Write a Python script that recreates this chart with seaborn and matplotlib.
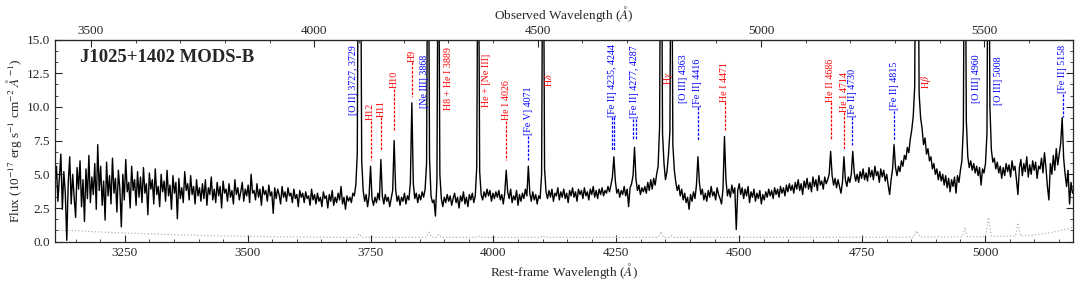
import numpy as np
import pandas as pd
import matplotlib
matplotlib.use("Agg")
import matplotlib.pyplot as plt
from matplotlib.ticker import MultipleLocator, AutoMinorLocator
import seaborn as sns

# ---------------- data ----------------
redshift = 0.1003
wave_start = 3108.0   # first rest-frame sample (A)
wave_step = 3.0       # sampling (A)

flux_3108_3405 = [4.2, 5.6, 3.0, 4.8, 6.5, 2.4, 5.2, 3.6, 0.1, 4.4,
                  6.3, 2.8, 5.0, 3.3, 1.8, 5.5, 3.9, 6.0, 2.6, 4.6,
                  1.5, 5.4, 3.2, 6.4, 2.9, 4.8, 3.5, 5.8, 2.4, 7.2,
                  3.8, 5.6, 2.7, 4.5, 1.6, 5.9, 3.4, 4.9, 2.8, 6.2,
                  3.6, 4.7, 2.2, 5.3, 3.9, 1.1, 5.0, 3.1, 6.1, 3.7,
                  4.4, 2.5, 5.6, 3.8, 4.6, 2.7, 5.2, 3.3, 4.8, 2.9,
                  5.5, 3.6, 4.3, 2.0, 5.1, 3.9, 4.6, 2.8, 5.4, 3.5,
                  4.1, 2.6, 5.0, 3.7, 4.5, 3.0, 5.3, 3.4, 4.2, 2.4,
                  4.9, 3.6, 4.4, 1.7, 4.7, 3.2, 4.0, 2.9, 5.2, 3.8,
                  4.3, 3.1, 4.9, 3.5, 4.1, 2.8, 4.6, 3.4, 4.0, 3.0]
flux_3408_3705 = [4.3, 3.2, 4.6, 2.7, 4.0, 3.5, 4.8, 3.1, 3.9, 2.9,
                  4.4, 3.4, 4.1, 2.5, 4.5, 3.6, 3.9, 3.0, 4.3, 3.3,
                  3.8, 2.8, 4.6, 3.5, 4.0, 3.1, 3.7, 4.4, 3.0, 3.9,
                  3.4, 4.2, 2.9, 5.0, 3.6, 3.8, 3.1, 4.3, 3.3, 3.9,
                  2.7, 4.1, 3.5, 3.8, 3.0, 4.2, 3.4, 3.7, 2.1, 4.0,
                  3.2, 3.9, 3.5, 2.8, 4.1, 3.3, 3.7, 3.0, 4.0, 3.4,
                  3.6, 2.9, 3.9, 3.2, 3.5, 2.6, 3.8, 3.3, 3.6, 2.9,
                  3.7, 3.2, 3.4, 2.7, 3.9, 3.1, 3.5, 2.8, 3.6, 3.0,
                  3.3, 2.6, 3.7, 3.2, 3.4, 2.5, 3.5, 3.0, 3.8, 2.7,
                  3.3, 2.9, 3.6, 3.1, 4.1, 2.8, 3.3, 2.4, 3.4, 3.0]
flux_3708_4005 = [3.3, 2.9, 3.6, 3.4, 4.2, 6.5, 32.0, 30.0, 6.0, 3.8,
                  3.0, 3.5, 2.6, 3.4, 5.6, 3.2, 2.7, 3.3, 2.9, 3.6,
                  3.1, 6.1, 3.4, 2.8, 3.5, 3.0, 3.3, 2.6, 3.2, 3.8,
                  7.5, 3.9, 3.0, 3.4, 2.7, 3.3, 3.0, 3.6, 2.8, 3.4,
                  3.1, 4.4, 10.3, 4.3, 3.2, 3.6, 2.9, 3.5, 3.1, 3.7,
                  3.3, 3.9, 5.8, 30.0, 6.2, 3.4, 2.9, 3.1, 1.9, 4.5,
                  28.0, 5.0, 3.2, 2.6, 3.3, 2.9, 3.5, 3.0, 3.4, 2.7,
                  3.2, 3.6, 2.9, 3.3, 2.5, 3.4, 3.0, 3.7, 2.8, 3.3,
                  2.6, 3.5, 3.1, 3.6, 2.9, 3.4, 5.5, 28.0, 5.2, 3.5,
                  3.1, 3.7, 3.3, 3.9, 3.4, 3.8, 3.0, 3.6, 3.2, 3.7]
flux_4008_4305 = [3.3, 3.8, 3.1, 3.5, 2.8, 3.6, 5.3, 3.7, 3.2, 3.9,
                  2.9, 3.4, 3.1, 3.8, 2.7, 3.5, 3.0, 3.6, 3.2, 3.9,
                  3.4, 5.6, 3.6, 3.0, 3.7, 3.1, 3.5, 2.8, 3.4, 3.2,
                  5.0, 30.0, 5.4, 3.7, 3.2, 3.8, 3.3, 3.9, 3.0, 3.6,
                  3.4, 4.0, 3.1, 3.7, 3.3, 3.9, 3.2, 3.6, 2.9, 3.8,
                  3.4, 4.0, 3.3, 3.7, 3.0, 3.9, 3.5, 3.8, 3.2, 4.0,
                  3.4, 3.7, 3.1, 3.9, 3.5, 4.1, 3.3, 3.8, 3.2, 3.9,
                  3.5, 4.0, 3.4, 3.8, 3.6, 4.1, 3.7, 4.2, 4.8, 6.3,
                  4.5, 3.6, 3.9, 3.3, 3.8, 3.5, 4.1, 3.4, 3.9, 2.6,
                  4.0, 4.3, 4.9, 7.0, 4.6, 3.8, 4.2, 3.5, 4.0, 3.7]
flux_4308_4605 = [4.1, 3.6, 4.4, 3.8, 4.6, 3.9, 4.7, 4.2, 5.0, 5.6,
                  8.5, 32.0, 8.0, 5.8, 4.6, 5.2, 6.4, 8.2, 30.0, 7.2,
                  5.3, 4.4, 3.8, 4.2, 3.4, 3.9, 3.1, 3.6, 2.9, 3.3,
                  2.4, 3.5, 3.0, 3.7, 3.2, 4.2, 6.3, 4.4, 3.5, 3.9,
                  3.1, 3.6, 3.0, 3.8, 3.3, 4.1, 3.4, 3.7, 3.1, 4.0,
                  3.5, 3.2, 2.8, 3.9, 7.8, 4.6, 3.4, 3.9, 3.3, 4.2,
                  3.6, 4.0, 0.9, 3.8, 4.3, 3.5, 4.0, 3.2, 3.9, 3.4,
                  4.1, 2.9, 3.7, 3.3, 3.9, 3.0, 3.6, 3.2, 3.8, 2.8,
                  3.5, 3.1, 3.7, 3.3, 3.9, 3.4, 3.8, 3.2, 4.0, 3.5,
                  3.9, 3.3, 4.1, 3.6, 4.0, 3.4, 4.2, 3.7, 4.3, 3.8]
flux_4608_4905 = [4.2, 3.6, 4.4, 3.9, 4.6, 3.8, 4.3, 3.5, 4.5, 4.0,
                  4.7, 3.9, 4.4, 3.7, 4.8, 4.1, 4.6, 3.8, 4.9, 4.2,
                  4.5, 3.9, 4.8, 4.3, 4.6, 5.0, 6.7, 4.9, 4.2, 4.7,
                  4.0, 4.6, 4.1, 3.6, 4.4, 6.3, 4.6, 4.1, 4.8, 4.4,
                  5.0, 6.7, 5.1, 4.5, 5.0, 4.4, 5.2, 4.7, 5.4, 4.6,
                  5.1, 4.5, 5.5, 4.8, 5.3, 4.6, 5.6, 4.9, 5.2, 4.4,
                  5.4, 4.8, 5.3, 4.5, 5.0, 4.2, 3.5, 4.6, 5.4, 7.2,
                  5.5, 4.9, 5.6, 5.2, 6.0, 5.6, 6.4, 6.1, 7.0, 6.6,
                  7.6, 8.3, 9.3, 11.5, 32.0, 30.0, 11.0, 9.2, 8.4, 7.2,
                  7.7, 6.5, 6.9, 6.0, 6.3, 5.4, 5.8, 5.0, 5.4, 4.6]
flux_4908_5178 = [5.2, 4.5, 5.0, 4.2, 4.9, 4.0, 4.7, 3.7, 4.6, 4.1,
                  4.8, 3.6, 4.9, 4.4, 5.3, 6.0, 8.5, 32.0, 9.0, 6.3,
                  5.5, 6.0, 5.3, 5.8, 5.1, 5.6, 4.9, 5.5, 4.2, 5.4,
                  5.1, 5.8, 8.0, 32.0, 10.0, 6.8, 5.9, 6.2, 5.4, 5.9,
                  5.1, 5.6, 4.7, 5.5, 4.9, 5.8, 5.2, 5.7, 4.8, 6.0,
                  5.3, 5.6, 4.6, 3.5, 5.5, 6.1, 4.9, 5.8, 5.2, 6.3,
                  4.8, 5.7, 5.0, 6.0, 5.3, 5.9, 4.7, 5.6, 5.4, 6.2,
                  5.1, 6.6, 5.5, 4.1, 3.1, 5.8, 5.0, 6.4, 5.3, 6.9,
                  5.7, 6.5, 7.3, 9.2, 6.2, 5.0, 4.1, 5.3, 2.8, 4.4,
                  3.6]

# error spectrum (grey dotted)
err_wave = [3108, 3150, 3200, 3250, 3300, 3350, 3400, 3450, 3500, 3550, 3600,
            3650, 3700, 3722, 3727, 3732, 3864, 3869, 3874, 3884, 3889, 3894,
            3964, 3969, 3974, 4096, 4101, 4106, 4335, 4341, 4346, 4358, 4363,
            4368, 4500, 4700, 4855, 4861, 4867, 4954, 4959, 4964, 5001, 5007,
            5013, 5062, 5067, 5072, 5100, 5130, 5150, 5178]
err_flux = [0.85, 0.82, 0.72, 0.65, 0.58, 0.52, 0.47, 0.43, 0.40, 0.37, 0.35,
            0.33, 0.32, 0.32, 0.60, 0.32, 0.32, 0.70, 0.35, 0.33, 0.55, 0.32,
            0.32, 0.45, 0.32, 0.32, 0.45, 0.32, 0.32, 0.75, 0.32, 0.32, 0.45,
            0.32, 0.32, 0.33, 0.34, 0.80, 0.35, 0.36, 1.05, 0.37, 0.38, 1.80,
            0.40, 0.42, 1.40, 0.45, 0.50, 0.65, 0.80, 1.05]

# line labels: text, colour, x of text (rest A), y of text bottom, y of dash end, double dash
label_text = ["[O II] 3727, 3729", "H12", "H11", "H10", "H9", "[Ne III] 3868",
              "H8 + He I 3889", "He + [Ne III]", "He I 4026", "[Fe V] 4071",
              r"H$\delta$", "[Fe II] 4235, 4244", "[Fe II] 4277, 4287", r"H$\gamma$",
              "[O III] 4363", "[Fe II] 4416", "He I 4471", "He II 4686", "He I 4714",
              "[Fe II] 4730", "[Fe II] 4815", r"H$\beta$", "[O III] 4960",
              "[O III] 5008", "[Fe II] 5158"]
label_color = ["blue", "red", "red", "red", "red", "blue",
               "red", "red", "red", "blue",
               "red", "blue", "blue", "red",
               "blue", "blue", "red", "red", "red",
               "blue", "blue", "red", "blue",
               "blue", "blue"]
label_x = [3715, 3750, 3771, 3798, 3835, 3859,
           3908, 3986, 4026, 4071,
           4111, 4243, 4287, 4356,
           4386, 4416, 4471, 4686, 4714,
           4730, 4815, 4881, 4983,
           5027, 5158]
label_y = [9.40, 9.03, 9.27, 11.40, 13.35, 9.92,
           9.77, 9.99, 9.03, 7.92,
           11.50, 9.27, 9.18, 11.62,
           10.29, 10.02, 10.39, 10.39, 9.64,
           9.27, 9.77, 11.30, 10.29,
           10.14, 11.03]
dash_end = [None, 6.06, 6.80, 8.29, 10.76, None,
            None, None, 6.06, 6.06,
            None, 6.80, 7.54, None,
            None, 7.54, 8.29, 7.54, 6.80,
            7.17, 7.54, None, None,
            None, 9.27]
dash_double = [False, False, False, False, False, False,
               False, False, False, False,
               False, True, True, False,
               False, False, False, False, False,
               False, False, False, False,
               False, False]

# ---------------- build ----------------
flux = np.concatenate([flux_3108_3405, flux_3408_3705, flux_3708_4005,
                       flux_4008_4305, flux_4308_4605, flux_4608_4905,
                       flux_4908_5178])
wave = wave_start + wave_step * np.arange(len(flux))
spec = pd.DataFrame({"wave": wave, "flux": flux})
err = pd.DataFrame({"wave": err_wave, "flux": err_flux})

sns.set_style("ticks")
plt.rcParams["font.family"] = ["Liberation Serif", "DejaVu Serif"]
plt.rcParams["mathtext.fontset"] = "stix"
plt.rcParams["xtick.direction"] = "in"
plt.rcParams["ytick.direction"] = "in"

fig = plt.figure(figsize=(10.8, 2.85), dpi=100)
ax = fig.add_axes([0.0509, 0.1519, 0.9426, 0.7095])

sns.lineplot(data=err, x="wave", y="flux", ax=ax, color="#b4b4b4",
             linestyle=":", linewidth=0.9, estimator=None, sort=False)
sns.lineplot(data=spec, x="wave", y="flux", ax=ax, color="black",
             linewidth=1.0, estimator=None, sort=False)

ax.set_xlim(3108, 5179)
ax.set_ylim(0, 15)

# labels
for t, c, x, yb, yd, dbl in zip(label_text, label_color, label_x, label_y,
                                dash_end, dash_double):
    ax.text(x, yb, t, color=c, rotation=90, ha="center", va="bottom",
            fontsize=7.2)
    if yd is not None:
        xs = [x - 2.6, x + 2.6] if dbl else [x]
        for xx in xs:
            ax.plot([xx, xx], [yb - 0.05, yd], color=c, lw=0.9,
                    linestyle=(0, (2.2, 1.2)))

ax.text(0.025, 0.955, "J1025+1402 MODS-B", transform=ax.transAxes,
        fontsize=13.5, fontweight="bold", ha="left", va="top")

ax.set_xlabel(r"Rest-frame Wavelength ($\AA$)", fontsize=9.5, labelpad=2)
ax.set_ylabel(r"Flux (10$^{-17}$ erg s$^{-1}$ cm$^{-2}$ $\AA^{-1}$)",
              fontsize=9.5, labelpad=2)

ax.xaxis.set_major_locator(MultipleLocator(250))
ax.xaxis.set_minor_locator(MultipleLocator(50))
ax.yaxis.set_major_locator(MultipleLocator(2.5))
ax.yaxis.set_minor_locator(AutoMinorLocator(3))
ax.yaxis.set_major_formatter(plt.FormatStrFormatter("%.1f"))
ax.tick_params(axis="both", which="major", labelsize=9.5, length=5, width=0.8,
               direction="in", right=True, top=False)
ax.tick_params(axis="both", which="minor", length=2.5, width=0.6,
               direction="in", right=True, top=False)

sec = ax.secondary_xaxis("top", functions=(lambda w: w * (1 + redshift),
                                           lambda o: o / (1 + redshift)))
sec.set_xticks([3500, 4000, 4500, 5000, 5500])
sec.xaxis.set_minor_locator(MultipleLocator(100))
sec.tick_params(which="major", direction="in", length=5, width=0.8,
                labelsize=9.5, pad=2)
sec.tick_params(which="minor", direction="in", length=2.5, width=0.6)
sec.set_xlabel(r"Observed Wavelength ($\AA$)", fontsize=9.5, labelpad=4)

for s in ax.spines.values():
    s.set_linewidth(0.9)
    s.set_visible(True)

fig.savefig("out.png", dpi=100)
